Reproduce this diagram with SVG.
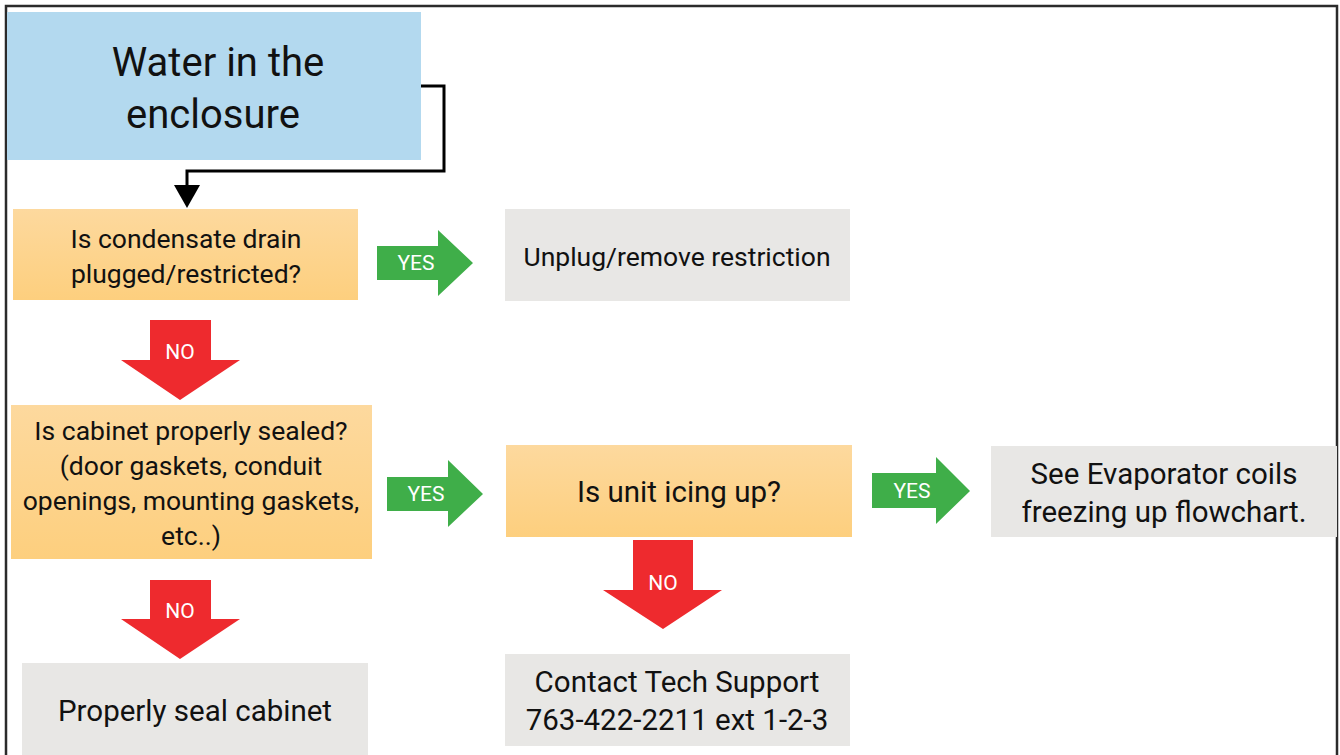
<svg xmlns="http://www.w3.org/2000/svg" width="1340" height="755" viewBox="0 0 1340 755">
<defs>
<linearGradient id="og" x1="0" y1="0" x2="0" y2="1">
<stop offset="0" stop-color="#fdd99e"/>
<stop offset="1" stop-color="#fdcf7e"/>
</linearGradient>
</defs>
<style>
text{font-family:Roboto,"Liberation Sans",sans-serif;fill:#111;text-anchor:middle}
.t{font-size:26.5px}
.tl{font-size:29.5px}
.lbl{font-size:21px;fill:#fff}
.q{fill:url(#og)}
.g{fill:#e8e7e5}
.yes{fill:#3fae49}
.no{fill:#ee2a2e}
</style>
<rect x="6" y="6" width="1331" height="760" fill="#fff" stroke="#2b2b2b" stroke-width="2.5"/>
<g id="start">
<rect x="7" y="12" width="414" height="148" fill="#b3d9ef"/>
<text x="218" y="76" style="font-size:40px">Water in the</text>
<text x="213" y="128" style="font-size:40px">enclosure</text>
</g>
<g id="connectors">
<path d="M421,86 H444 V171 H187 V190" fill="none" stroke="#000" stroke-width="3"/>
<path d="M174,185 L200,185 L187,208 Z" fill="#000"/>
<g id="yes1"><path class="yes" d="M377,246 H438 V230 L473,263 L438,296 V280 H377 Z"/><text class="lbl" x="416" y="270">YES</text></g>
<g id="no1"><path class="no" d="M150,320 H211 V360 H240 L180,400 L121,360 H150 Z"/><text class="lbl" x="180" y="359">NO</text></g>
<g id="yes2"><path class="yes" d="M387,477 H448 V460 L483,494 L448,527 V511 H387 Z"/><text class="lbl" x="426" y="501">YES</text></g>
<g id="yes3"><path class="yes" d="M872,473 H936 V457 L970,491 L936,524 V508 H872 Z"/><text class="lbl" x="912" y="498">YES</text></g>
<g id="no2"><path class="no" d="M150,580 H211 V619 H240 L180,659 L121,619 H150 Z"/><text class="lbl" x="180" y="618">NO</text></g>
<g id="no3"><path class="no" d="M633,540 H693 V590 H722 L663,629 L603,590 H633 Z"/><text class="lbl" x="663" y="590">NO</text></g>
</g>
<g id="q1">
<rect class="q" x="13" y="209" width="345" height="91"/>
<text class="t" x="186" y="248">Is condensate drain</text>
<text class="t" x="186" y="283">plugged/restricted?</text>
</g>
<g id="a1">
<rect class="g" x="505" y="209" width="345" height="92"/>
<text class="t" x="677" y="266">Unplug/remove restriction</text>
</g>
<g id="q2">
<rect class="q" x="11" y="405" width="361" height="154"/>
<text class="t" x="191" y="440">Is cabinet properly sealed?</text>
<text class="t" x="191" y="475">(door gaskets, conduit</text>
<text class="t" x="191" y="510">openings, mounting gaskets,</text>
<text class="t" x="191" y="545">etc..)</text>
</g>
<g id="q3">
<rect class="q" x="506" y="445" width="346" height="92"/>
<text class="tl" x="679" y="502">Is unit icing up?</text>
</g>
<g id="a3">
<rect class="g" x="991" y="446" width="346" height="91"/>
<text class="tl" x="1164" y="484">See Evaporator coils</text>
<text class="tl" x="1164" y="522">freezing up flowchart.</text>
</g>
<g id="a2">
<rect class="g" x="22" y="663" width="346" height="100"/>
<text class="tl" x="195" y="721">Properly seal cabinet</text>
</g>
<g id="a4">
<rect class="g" x="505" y="654" width="345" height="92"/>
<text class="tl" x="677" y="692">Contact Tech Support</text>
<text class="tl" x="677" y="730">763-422-2211 ext 1-2-3</text>
</g>
</svg>
